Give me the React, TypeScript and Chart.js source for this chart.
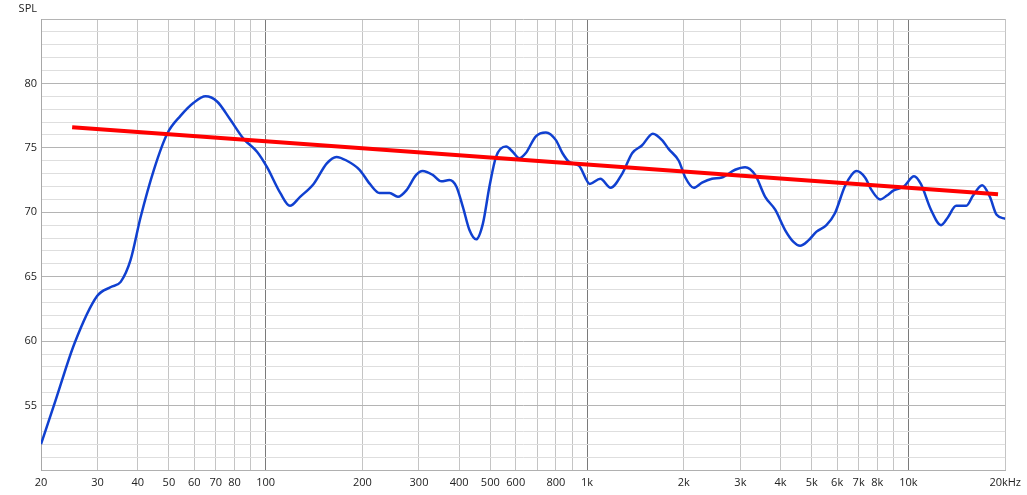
import React, { useEffect, useRef } from "react";
import { Chart, registerables } from "chart.js";

Chart.register(...registerables);

const freqs = [
  20, 22.2, 25.4, 29.9, 33.0, 35.4, 38.0, 40.8, 44.9, 49.4, 54.4, 59.7, 65, 70.6, 77.6, 85.4, 94,
  101, 111, 119, 128, 141, 155, 166, 179, 196, 211, 226, 243, 258, 274, 294, 308, 331, 352, 373,
  392, 411, 431, 452, 474, 497, 521, 560, 587, 615, 645, 693, 745, 800, 838, 880, 945, 1020, 1100,
  1184, 1287, 1383, 1484, 1602, 1712, 1796, 1929, 2022, 2147, 2279, 2447, 2626, 2888, 3104, 3335,
  3583, 3850, 4137, 4389, 4601, 4876, 5176, 5556, 5900, 6338, 6650, 6898, 7326, 7689, 8171, 8573,
  8997, 9677, 10410, 10930, 11750, 12630, 13260, 14080, 15140, 15890, 16960, 17920, 18810, 20000,
];

const splValues = [
  52.0, 55.4, 59.8, 63.5, 64.2, 64.6, 66.3, 69.6, 73.3, 76.1, 77.5, 78.5, 79.0, 78.6, 77.2, 75.7,
  74.7, 73.5, 71.5, 70.5, 71.2, 72.2, 73.8, 74.3, 74.0, 73.3, 72.2, 71.5, 71.5, 71.2, 71.7, 72.9,
  73.2, 72.9, 72.4, 72.5, 72.0, 70.4, 68.6, 67.9, 69.1, 72.0, 74.3, 75.1, 74.7, 74.2, 74.6, 75.9,
  76.2, 75.6, 74.6, 73.9, 73.6, 72.2, 72.6, 71.9, 73.0, 74.6, 75.2, 76.1, 75.6, 74.9, 74.0, 72.7,
  71.9, 72.3, 72.6, 72.7, 73.3, 73.5, 72.9, 71.2, 70.2, 68.6, 67.7, 67.4, 67.8, 68.5, 69.0, 69.9,
  72.0, 72.9, 73.2, 72.7, 71.7, 71.0, 71.3, 71.7, 72.0, 72.8, 72.2, 70.2, 69.0, 69.6, 70.5, 70.5,
  71.3, 72.1, 71.2, 69.8, 69.5,
];

const trendFreqs = [25, 19000];
const trendValues = [76.6, 71.4];

const xTickValues = [
  20, 30, 40, 50, 60, 70, 80, 90, 100, 200, 300, 400, 500, 600, 700, 800, 900, 1000, 2000, 3000,
  4000, 5000, 6000, 7000, 8000, 9000, 10000, 20000,
];
const xTickLabels = [
  "20", "30", "40", "50", "60", "70", "80", "", "100", "200", "300", "400", "500", "600", "",
  "800", "", "1k", "2k", "3k", "4k", "5k", "6k", "7k", "8k", "", "10k", "20kHz",
];
const yLabelValues = [55, 60, 65, 70, 75, 80];
const yAxisTitle = "SPL";

const FONT = "'Open Sans', 'Noto Sans', sans-serif";

export default function App() {
  const ref = useRef<HTMLCanvasElement | null>(null);

  useEffect(() => {
    document.body.style.margin = "0";
    const canvas = ref.current;
    if (!canvas) return;

    const titlePlugin = {
      id: "splTitle",
      afterDraw(chart: any) {
        const { ctx, chartArea } = chart;
        ctx.save();
        ctx.font = `11px ${FONT}`;
        ctx.fillStyle = "#222";
        ctx.textAlign = "right";
        ctx.textBaseline = "alphabetic";
        ctx.fillText(yAxisTitle, chartArea.left - 4, chartArea.top - 7);
        ctx.restore();
      },
    };

    const isDecade = (v: number) => {
      const l = Math.log10(v);
      return Math.abs(l - Math.round(l)) < 1e-9;
    };

    const chart = new Chart(canvas, {
      type: "line",
      data: {
        datasets: [
          {
            label: "trend",
            data: trendFreqs.map((f, i) => ({ x: f, y: trendValues[i] })),
            borderColor: "#ff0000",
            borderWidth: 4,
            pointRadius: 0,
            fill: false,
          },
          {
            label: "SPL",
            data: freqs.map((f, i) => ({ x: f, y: splValues[i] })),
            borderColor: "#1040d0",
            borderWidth: 2.5,
            pointRadius: 0,
            fill: false,
            cubicInterpolationMode: "monotone",
          },
        ],
      },
      options: {
        animation: false,
        responsive: false,
        devicePixelRatio: 1,
        layout: { padding: { top: 19, right: 19, left: 0, bottom: 0 } },
        plugins: {
          legend: { display: false },
          tooltip: { enabled: false },
        },
        scales: {
          x: {
            type: "logarithmic",
            min: 20,
            max: 20000,
            afterBuildTicks: (scale: any) => {
              scale.ticks = xTickValues.map((v) => ({ value: v }));
            },
            afterFit: (scale: any) => {
              scale.height = 25;
            },
            ticks: {
              autoSkip: false,
              maxRotation: 0,
              padding: 6,
              color: "#222",
              font: { family: FONT, size: 11 },
              callback: (_v: any, i: number) => xTickLabels[i],
            },
            grid: {
              drawTicks: false,
              color: (ctx: any) => {
                const v = ctx.tick ? ctx.tick.value : 0;
                return isDecade(v) ? "#7a7a7a" : "#c4c4c4";
              },
            },
            border: { color: "#b0b0b0" },
          },
          y: {
            type: "linear",
            min: 50,
            max: 85,
            afterFit: (scale: any) => {
              scale.width = 41;
            },
            ticks: {
              stepSize: 1,
              autoSkip: false,
              padding: 4,
              color: "#222",
              font: { family: FONT, size: 11 },
              callback: (v: any) => (yLabelValues.includes(Number(v)) ? String(v) : ""),
            },
            grid: {
              drawTicks: false,
              color: (ctx: any) => {
                const v = ctx.tick ? ctx.tick.value : 0;
                return v % 5 === 0 ? "#b4b4b4" : "#dedede";
              },
            },
            border: { color: "#a8a8a8" },
          },
        },
      },
      plugins: [titlePlugin],
    } as any);

    return () => chart.destroy();
  }, []);

  return (
    <div style={{ width: 1027, height: 495, position: "relative", background: "#fff" }}>
      <canvas ref={ref} width={1027} height={495} />
    </div>
  );
}
